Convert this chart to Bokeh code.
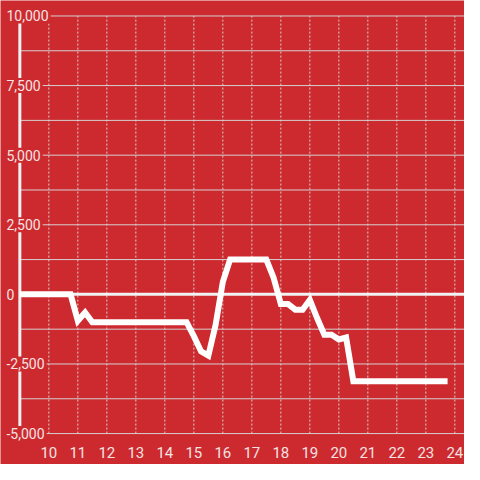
from bokeh.plotting import figure
from bokeh.models import Range1d, ColumnDataSource
from bokeh.core.properties import value
from bokeh.embed import file_html
from bokeh.resources import INLINE

# ---- data ----
HOURS = [9.0, 9.25, 9.5, 9.75, 10.0, 10.25, 10.5, 10.75,
         11.0, 11.25, 11.5, 11.75, 12.0, 12.25, 12.5, 12.75,
         13.0, 13.25, 13.5, 13.75, 14.0, 14.25, 14.5, 14.75,
         15.0, 15.25, 15.5, 15.75, 16.0, 16.25, 16.5, 16.75,
         17.0, 17.25, 17.5, 17.75, 18.0, 18.25, 18.5, 18.75,
         19.0, 19.25, 19.5, 19.75, 20.0, 20.25, 20.5, 20.75,
         21.0, 21.25, 21.5, 21.75, 22.0, 22.25, 22.5, 22.75,
         23.0, 23.25, 23.5, 23.75]
VALUES = [0, 0, 0, 0, 0, 0, 0, 0,
          -950, -650, -1000, -1000, -1000, -1000, -1000, -1000,
          -1000, -1000, -1000, -1000, -1000, -1000, -1000, -1000,
          -1500, -2050, -2200, -1100, 450, 1250, 1250, 1250,
          1250, 1250, 1250, 600, -350, -350, -550, -550,
          -200, -850, -1450, -1450, -1620, -1550, -3120, -3120,
          -3120, -3120, -3120, -3120, -3120, -3120, -3120, -3120,
          -3120, -3120, -3120, -3120]
X_TICKS = [10, 11, 12, 13, 14, 15, 16, 17, 18, 19, 20, 21, 22, 23, 24]
X_TICK_LABELS = ["10", "11", "12", "13", "14", "15", "16", "17", "18",
                 "19", "20", "21", "22", "23", "24"]
Y_TICKS = [-5000, -2500, 0, 2500, 5000, 7500, 10000]
Y_TICK_LABELS = ["-5,000", "-2,500", "0", "2,500", "5,000", "7,500", "10,000"]
Y_GRID = [-5000, -3750, -2500, -1250, 0, 1250, 2500, 3750, 5000,
          6250, 7500, 8750, 10000]

# ---- style ----
BG = "#cc2a2f"
GRID = "#d6d0d0"
TEXT = "#f4e2e2"
FONT = "Roboto"
X_START, X_END = 8.333, 24.333
Y_START, Y_END = -6111, 10556
AXIS_X = HOURS[0]

p = figure(width=464, height=464, output_backend="svg", toolbar_location=None,
           x_range=Range1d(X_START, X_END), y_range=Range1d(Y_START, Y_END),
           x_axis_location=None, y_axis_location=None,
           min_border=0)
p.background_fill_color = BG
p.border_fill_color = BG
p.outline_line_color = None
p.xgrid.visible = False
p.ygrid.visible = False

# horizontal grid lines
p.segment(x0=[AXIS_X] * len(Y_GRID), x1=[X_END] * len(Y_GRID),
          y0=Y_GRID, y1=Y_GRID, line_color=GRID, line_width=1)
# vertical dashed grid lines
p.segment(x0=X_TICKS, x1=X_TICKS, y0=[Y_TICKS[0]] * len(X_TICKS),
          y1=[Y_TICKS[-1]] * len(X_TICKS), line_color=GRID, line_width=1,
          line_dash="2 2")
# zero line
p.segment(x0=[AXIS_X], x1=[X_END], y0=[0], y1=[0], line_color="#f2f2f2",
          line_width=3)
# vertical axis bar
p.segment(x0=[AXIS_X], x1=[AXIS_X], y0=[Y_TICKS[0]], y1=[Y_TICKS[-1]],
          line_color="#f2f2f2", line_width=3)

# data line
p.line(HOURS, VALUES, line_color="#ffffff", line_width=6, line_join="miter")

# y labels with background
ysrc = ColumnDataSource(dict(x=[X_START] * len(Y_TICKS), y=Y_TICKS, t=Y_TICK_LABELS))
p.text(x="x", y="y", text="t", source=ysrc, x_offset=4,
       text_font=value(FONT), text_font_size=value("14px"), text_color=TEXT,
       text_align="left", text_baseline="middle",
       background_fill_color=BG, padding=2)

# x labels below the bottom grid line
xsrc = ColumnDataSource(dict(x=X_TICKS, y=[Y_TICKS[0]] * len(X_TICKS), t=X_TICK_LABELS))
p.text(x="x", y="y", text="t", source=xsrc, y_offset=19,
       text_font=value(FONT), text_font_size=value("15px"), text_color=TEXT,
       text_align="center", text_baseline="middle")

open("out.html", "w").write(file_html(p, INLINE))
